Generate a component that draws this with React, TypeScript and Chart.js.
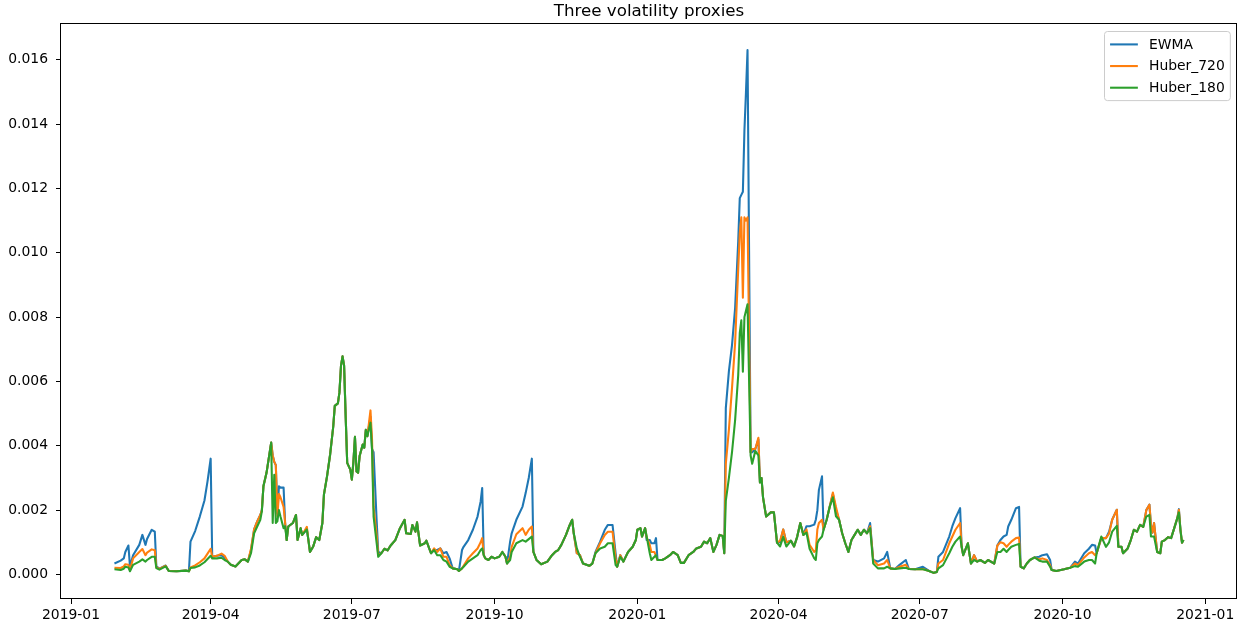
import { useEffect, useRef } from 'react';
import { Chart, registerables } from 'chart.js';

Chart.register(...registerables);

const chartTitle = 'Three volatility proxies';
const seriesLabels = ['EWMA', 'Huber_720', 'Huber_180'];
const seriesColors = ['#1f77b4', '#ff7f0e', '#2ca02c'];
const xTickLabels = ['2019-01', '2019-04', '2019-07', '2019-10', '2020-01', '2020-04', '2020-07', '2020-10', '2021-01'];
const yTickValues = [0, 0.002, 0.004, 0.006, 0.008, 0.01, 0.012, 0.014, 0.016];

const dates = [
  '2019-01-29','2019-02-02','2019-02-04','2019-02-05','2019-02-07','2019-02-08','2019-02-10','2019-02-14','2019-02-16','2019-02-18',
  '2019-02-19','2019-02-22','2019-02-24','2019-02-25','2019-02-27','2019-03-03','2019-03-05','2019-03-10','2019-03-16','2019-03-18',
  '2019-03-19','2019-03-22','2019-03-25','2019-03-28','2019-03-30','2019-04-01','2019-04-02','2019-04-05','2019-04-08','2019-04-10',
  '2019-04-12','2019-04-14','2019-04-17','2019-04-21',
  '2019-04-23','2019-04-25','2019-04-27','2019-04-29','2019-05-01','2019-05-03','2019-05-04','2019-05-05','2019-05-07','2019-05-08',
  '2019-05-10','2019-05-11','2019-05-12','2019-05-13','2019-05-14','2019-05-15','2019-05-16','2019-05-18','2019-05-19','2019-05-20',
  '2019-05-21','2019-05-24','2019-05-26','2019-05-27','2019-05-29','2019-05-30','2019-06-02','2019-06-03','2019-06-04','2019-06-06',
  '2019-06-08','2019-06-10','2019-06-12','2019-06-13','2019-06-15','2019-06-17','2019-06-19','2019-06-20','2019-06-22','2019-06-23',
  '2019-06-24','2019-06-25','2019-06-26','2019-06-27','2019-06-28','2019-06-30','2019-07-01','2019-07-02','2019-07-03','2019-07-04',
  '2019-07-05','2019-07-06','2019-07-08','2019-07-09','2019-07-10','2019-07-11','2019-07-13','2019-07-14','2019-07-15','2019-07-17',
  '2019-07-18','2019-07-20','2019-07-22','2019-07-24','2019-07-26','2019-07-29','2019-08-01','2019-08-04','2019-08-05','2019-08-08',
  '2019-08-09','2019-08-11','2019-08-12','2019-08-14','2019-08-17','2019-08-18','2019-08-21',
  '2019-08-23','2019-08-25','2019-08-27','2019-08-29','2019-08-31','2019-09-02','2019-09-04','2019-09-07','2019-09-08','2019-09-10',
  '2019-09-11','2019-09-14','2019-09-17','2019-09-20','2019-09-22','2019-09-23','2019-09-24','2019-09-25','2019-09-27','2019-09-29',
  '2019-10-01','2019-10-04','2019-10-06','2019-10-08','2019-10-09','2019-10-11','2019-10-12','2019-10-15','2019-10-19','2019-10-21',
  '2019-10-23','2019-10-25','2019-10-26','2019-10-28','2019-10-31','2019-11-04','2019-11-07','2019-11-09','2019-11-11','2019-11-13',
  '2019-11-16','2019-11-18','2019-11-20','2019-11-21','2019-11-23','2019-11-25','2019-11-27','2019-12-01','2019-12-03','2019-12-05',
  '2019-12-08','2019-12-11','2019-12-13','2019-12-16','2019-12-18',
  '2019-12-19','2019-12-21','2019-12-23','2019-12-24','2019-12-26','2019-12-29','2019-12-31','2020-01-01','2020-01-03','2020-01-04',
  '2020-01-06','2020-01-07','2020-01-09','2020-01-10','2020-01-12','2020-01-13','2020-01-14','2020-01-17','2020-01-19','2020-01-22',
  '2020-01-24','2020-01-27','2020-01-29','2020-01-31','2020-02-03','2020-02-06','2020-02-08','2020-02-11','2020-02-13','2020-02-15',
  '2020-02-17','2020-02-19','2020-02-21','2020-02-23','2020-02-25','2020-02-26',
  '2020-02-27','2020-02-29','2020-03-02','2020-03-04','2020-03-06','2020-03-07','2020-03-08','2020-03-09','2020-03-10','2020-03-11',
  '2020-03-12','2020-03-14','2020-03-15','2020-03-17','2020-03-19','2020-03-20','2020-03-21','2020-03-22','2020-03-24','2020-03-27',
  '2020-03-29','2020-03-31','2020-04-02','2020-04-04','2020-04-06','2020-04-09','2020-04-11','2020-04-13','2020-04-15','2020-04-17',
  '2020-04-19','2020-04-21','2020-04-24','2020-04-25','2020-04-26','2020-04-27','2020-04-29','2020-04-30','2020-05-02','2020-05-04',
  '2020-05-06','2020-05-08','2020-05-10','2020-05-12','2020-05-14','2020-05-16','2020-05-18','2020-05-20','2020-05-22','2020-05-24',
  '2020-05-26','2020-05-28','2020-05-30','2020-06-01','2020-06-04','2020-06-08','2020-06-10','2020-06-12','2020-06-15','2020-06-18',
  '2020-06-22','2020-06-24','2020-06-28','2020-07-03','2020-07-07','2020-07-10','2020-07-12','2020-07-13','2020-07-16','2020-07-20',
  '2020-07-22','2020-07-24','2020-07-27','2020-07-28','2020-07-29','2020-08-01','2020-08-03','2020-08-05','2020-08-07','2020-08-09',
  '2020-08-12','2020-08-14','2020-08-18','2020-08-20',
  '2020-08-22','2020-08-24','2020-08-26','2020-08-27','2020-08-29','2020-09-01','2020-09-03','2020-09-04','2020-09-06','2020-09-08',
  '2020-09-10','2020-09-13','2020-09-16','2020-09-18','2020-09-21','2020-09-23','2020-09-24','2020-09-27','2020-10-02','2020-10-06',
  '2020-10-09','2020-10-11','2020-10-15','2020-10-18','2020-10-20','2020-10-22','2020-10-23','2020-10-26','2020-10-29','2020-10-31',
  '2020-11-02','2020-11-05','2020-11-06','2020-11-08','2020-11-09','2020-11-12','2020-11-14','2020-11-16','2020-11-18','2020-11-20',
  '2020-11-22','2020-11-24','2020-11-26','2020-11-27','2020-11-28','2020-11-29','2020-12-01','2020-12-03','2020-12-04','2020-12-06',
  '2020-12-08','2020-12-10','2020-12-12','2020-12-14','2020-12-15','2020-12-16','2020-12-17','2020-12-18',
];

const ewma = [
  .00034,.00043,.0005,.0007,.0009,.00025,.0006,.00092,.00123,.00092,
  .0011,.00139,.00133,.00025,.00018,.00028,.00011,.0001,.00012,.0001,
  .00102,.00135,.0018,.0023,.0029,.0036,.00055,.00058,.0006,.00052,
  .0004,.0003,.00025,.00045,
  .00047,.0004,.00075,.0014,.00165,.00185,.002,.00274,.00316,.00347,
  .0041,.0037,.0035,.0034,.0019,.00274,.0027,.0027,.0016,.00107,
  .00149,.0016,.00185,.00107,.00144,.00123,.0014,.00107,.0007,.00086,
  .00116,.00107,.0016,.00248,.00305,.00373,.0046,.00524,.00532,.00566,
  .00649,.00678,.00649,.00493,.00347,.00326,.00295,.0035,.00428,.0032,
  .00316,.00368,.00404,.00394,.0045,.0043,.0049,.0039,.0038,.00165,
  .0007,.00066,.0008,.00075,.0009,.00107,.00144,.0017,.00128,.00126,
  .00154,.00133,.00162,.0009,.00097,.00105,.00066,
  .00076,.00076,.00081,.00066,.0007,.0005,.00019,.00016,.00011,.00076,
  .00086,.00107,.00139,.0018,.00227,.00269,.0006,.0005,.00045,.00055,
  .0005,.00055,.0007,.00055,.00034,.00102,.00128,.0017,.00211,.00253,
  .003,.0036,.0007,.00045,.00032,.0004,.0006,.0007,.00076,.00092,
  .00123,.00149,.0017,.00128,.00066,.0006,.00034,.00027,.00034,.0007,
  .00102,.00139,.00154,.00154,.00065,
  .00024,.0006,.0004,.0005,.0007,.00086,.00107,.00139,.00144,.00118,
  .00144,.00107,.00107,.00097,.00097,.00113,.00045,.00045,.0005,.0006,
  .0007,.0006,.00036,.00036,.0006,.0007,.00081,.00086,.00102,.00097,
  .00113,.0007,.00092,.00123,.0012,.00066,
  .00517,.00632,.00713,.00828,.01036,.0117,.0118,.0119,.0138,.015,
  .0163,.0038,.0038,.0039,.0042,.00286,.003,.00239,.0018,.00193,
  .00193,.00099,.001,.0014,.001,.00105,.00087,.00117,.0016,.00123,
  .0015,.0015,.00155,.0017,.002,.00263,.00305,.00139,.0017,.00211,
  .0025,.002,.0017,.00128,.00097,.0007,.00107,.00123,.00139,.00123,
  .00139,.00128,.0016,.00045,.0004,.0005,.0007,.00019,.00017,.0003,
  .00045,.00017,.00016,.00024,.00011,.00005,.00008,.00055,.0007,.00118,
  .0015,.00175,.00206,.00086,.0006,.00097,.00034,.0006,.0004,.00045,
  .00036,.00045,.00034,.0009,
  .00107,.00118,.00123,.00149,.0017,.00206,.0021,.00024,.00019,.00034,
  .00045,.00053,.00055,.0006,.00063,.00045,.00014,.00011,.00016,.00021,
  .0004,.00034,.00066,.0008,.00092,.0009,.00066,.00113,.00113,.00133,
  .0017,.00201,.00086,.00086,.00066,.00081,.00107,.00139,.00133,.00154,
  .00148,.002,.00217,.00154,.0013,.0016,.0007,.00066,.00102,.00107,
  .00116,.00113,.00144,.00175,.00203,.00139,.00099,.00107,
];

const huber720 = [
  .00021,.0002,.00025,.00032,.0003,.00014,.0005,.0007,.00079,.0006,
  .00068,.00078,.00075,.00022,.00017,.00027,.00011,.0001,.00012,.0001,
  .00022,.00028,.00038,.0005,.00065,.0008,.00055,.00058,.00065,.00058,
  .0004,.0003,.00025,.00045,
  .00047,.0004,.0008,.0014,.00165,.00185,.002,.00274,.00316,.00347,
  .0041,.0037,.0035,.0034,.0018,.0025,.0024,.0021,.0016,.00107,
  .00149,.0016,.00185,.00107,.00144,.00123,.00148,.00107,.0007,.00086,
  .00116,.00107,.0016,.00248,.00305,.00373,.0046,.00524,.00532,.00566,
  .00649,.00678,.00649,.00493,.00347,.00326,.00295,.0035,.00428,.0032,
  .00316,.00368,.00404,.00394,.0045,.0043,.0051,.0042,.0021,.0012,
  .0006,.00066,.0008,.00075,.0009,.00107,.00144,.0017,.00128,.00126,
  .00154,.00133,.00162,.0009,.00097,.00105,.00066,
  .00081,.0007,.00081,.00055,.00055,.0003,.00019,.00016,.00011,.00019,
  .00027,.0005,.00066,.00081,.001,.00113,.0006,.0005,.00045,.00055,
  .0005,.00055,.0007,.00055,.00034,.00055,.00086,.00125,.00144,.00123,
  .00139,.00149,.0007,.00045,.00032,.0004,.0006,.0007,.00076,.00092,
  .00123,.00149,.0017,.00128,.00066,.0006,.00034,.00027,.00034,.00066,
  .00097,.00123,.00133,.00133,.0005,
  .00024,.0006,.0004,.0005,.0007,.00086,.00107,.00139,.00144,.00118,
  .00144,.00115,.00092,.0007,.0007,.00057,.00045,.00045,.0005,.0006,
  .0007,.0006,.00036,.00036,.0006,.0007,.00081,.00086,.00102,.00097,
  .00113,.0007,.00092,.00123,.0012,.00066,
  .00344,.0045,.0058,.0072,.0095,.0106,.0111,.0086,.0111,.011,
  .0111,.0038,.0039,.0039,.00425,.00286,.003,.00239,.0018,.00193,
  .00193,.00099,.00105,.0014,.001,.00105,.00087,.00117,.0016,.00123,
  .0014,.00092,.0007,.00075,.0014,.0016,.0017,.00139,.0017,.00211,
  .00255,.0021,.0017,.00128,.00097,.0007,.00107,.00123,.00139,.00123,
  .00139,.00128,.0015,.00045,.00029,.00034,.00045,.00019,.00017,.00024,
  .0003,.00017,.00016,.00017,.00011,.00005,.00008,.00034,.00045,.00097,
  .00118,.00139,.0016,.00086,.0006,.00097,.00034,.0006,.0004,.00045,
  .00036,.00045,.00034,.0009,
  .001,.00097,.00086,.00092,.00102,.00113,.00115,.00024,.00019,.00034,
  .00045,.00053,.00047,.0005,.00045,.00029,.00014,.00011,.00016,.00021,
  .00034,.00029,.00053,.00066,.0007,.0006,.00066,.00113,.00113,.00127,
  .0017,.00201,.00086,.00086,.00066,.00081,.00107,.00139,.00133,.00154,
  .00148,.002,.00217,.00154,.0013,.0016,.0007,.00066,.00102,.00107,
  .00116,.00113,.00144,.00175,.00201,.00139,.00099,.00107,
];

const huber180 = [
  .00016,.00014,.00018,.00024,.00022,.0001,.0003,.0004,.00047,.0004,
  .00045,.00055,.00055,.0002,.00015,.00025,.00011,.0001,.00012,.0001,
  .0002,.00022,.00028,.00038,.00048,.00058,.0005,.0005,.00052,.00045,
  .0004,.0003,.00025,.00045,
  .00047,.0004,.00066,.00128,.00149,.0017,.00196,.00274,.00316,.00347,
  .0041,.0016,.0031,.0016,.00165,.002,.0018,.00144,.0015,.00107,
  .00149,.0016,.00185,.00107,.00144,.00123,.0014,.00107,.0007,.00086,
  .00116,.00107,.0016,.00248,.00305,.00373,.0046,.00524,.00532,.00566,
  .00649,.00678,.00649,.00493,.00347,.00326,.00295,.0035,.00428,.0032,
  .00316,.00368,.00404,.00394,.0045,.0043,.00472,.00389,.0018,.00097,
  .00055,.00066,.0008,.00075,.0009,.00107,.00144,.0017,.00128,.00126,
  .00154,.00133,.00162,.0009,.00097,.00105,.00066,
  .00076,.0006,.0006,.00045,.0004,.00024,.00019,.00016,.00011,.00019,
  .00024,.0004,.0005,.0006,.00076,.00081,.0006,.0005,.00045,.00055,
  .0005,.00055,.0007,.00055,.00034,.00045,.0007,.00097,.00107,.00102,
  .0011,.00118,.0007,.00045,.00032,.0004,.0006,.0007,.00076,.00092,
  .00123,.00149,.0017,.00128,.00081,.00055,.00034,.00027,.00034,.00066,
  .00081,.00086,.00097,.00097,.00029,
  .00024,.00055,.0004,.0005,.0007,.00086,.00107,.00139,.00144,.00118,
  .00144,.00118,.00066,.00045,.00055,.0006,.00045,.00045,.0005,.0006,
  .0007,.0006,.00036,.00036,.0006,.0007,.00081,.00086,.00102,.00097,
  .00113,.0007,.00092,.00123,.0012,.00066,
  .00229,.003,.0038,.0048,.0062,.0075,.0079,.0063,.008,.0082,
  .0084,.0037,.00344,.00384,.0037,.00286,.003,.00239,.0018,.00193,
  .00193,.00099,.00087,.00117,.00087,.00105,.00087,.00117,.0016,.00123,
  .0013,.0008,.0005,.00045,.00097,.00107,.00118,.00139,.0017,.00211,
  .0024,.00181,.0017,.00128,.00097,.0007,.00107,.00123,.00139,.00123,
  .00139,.00128,.00144,.00034,.00019,.00019,.00024,.00019,.00017,.00019,
  .00021,.00017,.00016,.00016,.00011,.00005,.00008,.00019,.00029,.00066,
  .00086,.00102,.00118,.00086,.0006,.00097,.00034,.00045,.0004,.00045,
  .00036,.00045,.00034,.0007,
  .0007,.0008,.0007,.00076,.00086,.00092,.00095,.00024,.00019,.00034,
  .00045,.00053,.00043,.0004,.0004,.00024,.00014,.00011,.00016,.00021,
  .00026,.00024,.0004,.00045,.00045,.00034,.00066,.00118,.00086,.001,
  .00133,.00151,.00086,.00086,.00066,.00081,.00107,.00139,.00133,.00154,
  .00148,.0018,.00185,.00118,.00118,.00118,.0007,.00066,.00102,.00107,
  .00116,.00113,.00144,.00175,.00193,.00139,.00099,.00107,
];

const FONT = '"DejaVu Sans", "Liberation Sans", sans-serif';
const ORIGIN = Date.parse('2019-01-01');
const toDay = (s: string) => (Date.parse(s) - ORIGIN) / 86400000;

export default function App() {
  const canvasRef = useRef<HTMLCanvasElement | null>(null);

  useEffect(() => {
    const canvas = canvasRef.current;
    if (!canvas) return;

    const xs = dates.map(toDay);
    const allValues = [...ewma, ...huber720, ...huber180];
    const xMinData = Math.min(...xs);
    const xMaxData = Math.max(...xs);
    const yMinData = Math.min(...allValues);
    const yMaxData = Math.max(...allValues);
    const xm = (xMaxData - xMinData) * 0.05;
    const ym = (yMaxData - yMinData) * 0.05;
    const xTickDays = xTickLabels.map((l) => toDay(l + '-01'));

    const series = [ewma, huber720, huber180];
    const datasets = series.map((vals, i) => ({
      label: seriesLabels[i],
      data: vals.map((v, j) => ({ x: xs[j], y: v })),
      borderColor: seriesColors[i],
      backgroundColor: seriesColors[i],
      borderWidth: 2.08,
      pointRadius: 0,
      pointHoverRadius: 0,
      tension: 0,
      fill: false,
      borderJoinStyle: 'round' as const,
      order: series.length - 1 - i,
    }));

    const framePlugin = {
      id: 'mplFrame',
      afterDraw(chart: any) {
        const { ctx, chartArea } = chart;
        const { left, top, right, bottom } = chartArea;
        ctx.save();
        // spines
        ctx.strokeStyle = '#000';
        ctx.lineWidth = 1;
        ctx.strokeRect(left - 0.5, top - 0.5, right - left, bottom - top);
        // title
        ctx.fillStyle = '#000';
        ctx.font = `16.7px ${FONT}`;
        ctx.textAlign = 'center';
        ctx.textBaseline = 'alphabetic';
        ctx.fillText(chartTitle, (left + right) / 2, top - 8.3);
        // legend
        const f = 13.9;
        ctx.font = `${f}px ${FONT}`;
        const labels = chart.data.datasets.map((d: any) => d.label as string);
        const textW = Math.max(...labels.map((l: string) => ctx.measureText(l).width));
        const pad = 0.4 * f;
        const handle = 2 * f;
        const gap = 0.8 * f;
        const rowH = 14.7;
        const spacing = 0.5 * f;
        const w = pad + handle + gap + textW + pad;
        const h = 2 * pad + labels.length * rowH + (labels.length - 1) * spacing;
        const x0 = Math.round(right - 0.5 * f - w) + 0.5;
        const y0 = Math.round(top + 0.5 * f) + 0.5;
        ctx.beginPath();
        if ((ctx as any).roundRect) {
          (ctx as any).roundRect(x0, y0, w, h, 3);
        } else {
          ctx.rect(x0, y0, w, h);
        }
        ctx.fillStyle = 'rgba(255,255,255,0.8)';
        ctx.fill();
        ctx.strokeStyle = '#cccccc';
        ctx.lineWidth = 1;
        ctx.stroke();
        labels.forEach((l: string, i: number) => {
          const cy = y0 + pad + i * (rowH + spacing) + rowH / 2;
          ctx.strokeStyle = chart.data.datasets[i].borderColor;
          ctx.lineWidth = 2.08;
          ctx.beginPath();
          ctx.moveTo(x0 + pad, cy);
          ctx.lineTo(x0 + pad + handle, cy);
          ctx.stroke();
          ctx.fillStyle = '#000';
          ctx.textAlign = 'left';
          ctx.textBaseline = 'middle';
          ctx.fillText(l, x0 + pad + handle + gap, cy + 0.5);
        });
        ctx.restore();
      },
    };

    const chart = new Chart(canvas, {
      type: 'line',
      data: { datasets },
      options: {
        animation: false,
        responsive: false,
        maintainAspectRatio: false,
        events: [],
        layout: { padding: { top: 24, right: 1, bottom: 0, left: 0 } },
        plugins: {
          legend: { display: false },
          title: { display: false },
          tooltip: { enabled: false },
        },
        scales: {
          x: {
            type: 'linear',
            min: xMinData - xm,
            max: xMaxData + xm,
            bounds: 'data',
            afterBuildTicks: (scale: any) => {
              scale.ticks = xTickDays.map((v) => ({ value: v }));
            },
            afterFit: (scale: any) => {
              scale.height = 29;
            },
            ticks: {
              autoSkip: false,
              maxRotation: 0,
              minRotation: 0,
              padding: 3,
              color: '#000',
              font: { family: FONT, size: 13.9 },
              callback: (_v: any, i: number) => xTickLabels[i],
            },
            grid: {
              display: true,
              drawOnChartArea: false,
              drawTicks: true,
              tickLength: 5,
              tickColor: '#000',
              lineWidth: 1,
            },
            border: { display: false },
          },
          y: {
            type: 'linear',
            min: yMinData - ym,
            max: yMaxData + ym,
            bounds: 'data',
            afterBuildTicks: (scale: any) => {
              scale.ticks = yTickValues.map((v) => ({ value: v }));
            },
            afterFit: (scale: any) => {
              scale.width = 61;
            },
            ticks: {
              padding: 8,
              color: '#000',
              font: { family: FONT, size: 13.9 },
              callback: (_v: any, i: number) => yTickValues[i].toFixed(3),
            },
            grid: {
              display: true,
              drawOnChartArea: false,
              drawTicks: true,
              tickLength: 5,
              tickColor: '#000',
              lineWidth: 1,
            },
            border: { display: false },
          },
        },
      } as any,
      plugins: [framePlugin],
    });

    return () => {
      chart.destroy();
    };
  }, []);

  return (
    <div style={{ position: 'fixed', left: 0, top: 0, width: 1238, height: 628, background: '#fff' }}>
      <canvas ref={canvasRef} width={1238} height={628} style={{ width: 1238, height: 628, display: 'block' }} />
    </div>
  );
}
